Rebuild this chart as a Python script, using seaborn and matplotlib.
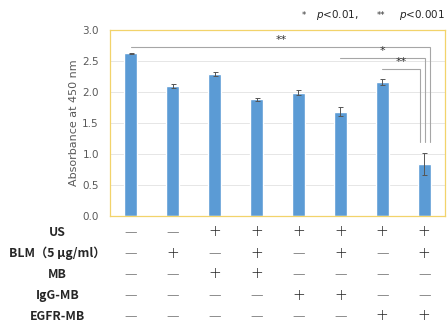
import numpy as np
import pandas as pd
import matplotlib
matplotlib.use("Agg")
import matplotlib.pyplot as plt
import matplotlib.transforms as mtransforms
import seaborn as sns

# Data
groups = ["G1", "G2", "G3", "G4", "G5", "G6", "G7", "G8"]
absorbance = [2.62, 2.09, 2.29, 1.88, 1.99, 1.68, 2.16, 0.84]
sd = [0.01, 0.03, 0.03, 0.03, 0.04, 0.07, 0.05, 0.17]

row_labels = ["US", "BLM（5 μg/ml）", "MB", "IgG-MB", "EGFR-MB"]
us = ["-", "-", "+", "+", "+", "+", "+", "+"]
blm = ["-", "+", "-", "+", "-", "+", "-", "+"]
mb = ["-", "-", "+", "+", "-", "-", "-", "-"]
igg = ["-", "-", "-", "-", "+", "+", "-", "-"]
egfr = ["-", "-", "-", "-", "-", "-", "+", "+"]
rows = [us, blm, mb, igg, egfr]

# significance brackets: (start bar, height, stars, label x)
brackets = [(0, 2.72, "**", 3.6), (5, 2.55, "*", 6.0), (6, 2.37, "**", 6.45)]

df = pd.DataFrame({"group": groups, "absorbance": absorbance})

sns.set_style("white")
plt.rcParams["font.family"] = ["DejaVu Sans"]

fig = plt.figure(figsize=(4.48, 3.28), dpi=100)
ax = fig.add_axes([0.2455, 0.341, 0.748, 0.568])

sns.barplot(data=df, x="group", y="absorbance", color="#5B9BD5",
            width=0.31, saturation=1, ax=ax, errorbar=None)
ax.errorbar(np.arange(len(groups)), absorbance, yerr=sd, fmt="none",
            ecolor="#555555", elinewidth=0.7, capsize=1.8, capthick=0.7)

ax.set_xlim(-0.5, 7.5)
ax.set_ylim(0, 3.0)
ax.set_yticks(np.arange(0, 3.01, 0.5))
ax.set_yticklabels([f"{v:.1f}" for v in np.arange(0, 3.01, 0.5)])
ax.set_xticks([])
ax.set_xlabel("")
ax.set_ylabel("Absorbance at 450 nm", color="#595959", fontsize=8, labelpad=2)
ax.tick_params(axis="y", colors="#595959", labelsize=7.5, length=0, pad=8)
ax.yaxis.grid(True, color="#E6E6E6", linewidth=0.7)
ax.set_axisbelow(True)
for s in ax.spines.values():
    s.set_color("#F2D36B")
    s.set_linewidth(0.9)

# brackets
right_x = [7.15, 7.03, 6.91]
for (start, h, stars, lx), rx in zip(brackets, right_x):
    ax.plot([start, rx, rx], [h, h, 1.19], color="#A6A6A6", lw=0.8,
            solid_joinstyle="miter")
    ax.text(lx, h + 0.03, stars, ha="center", va="bottom", fontsize=8,
            color="#333333")

# top legend text
fig.text(0.674, 0.953, "*", fontsize=6, ha="left", va="center", color="#333333")
fig.text(0.706, 0.953, "$p$<0.01,", fontsize=7.5, ha="left", va="center")
fig.text(0.84, 0.953, "**", fontsize=6, ha="left", va="center", color="#333333")
fig.text(0.89, 0.953, "$p$<0.001", fontsize=7.5, ha="left", va="center")

# condition table below
trans = mtransforms.blended_transform_factory(ax.transData, fig.transFigure)
row_y = [232, 253, 274, 295, 316]
for lab, signs, py in zip(row_labels, rows, row_y):
    yf = 1 - py / 328
    fig.text(0.128, yf, lab, ha="center", va="center", fontsize=8.8,
             fontweight="bold", family=["Noto Sans CJK JP", "DejaVu Sans"])
    for i, s in enumerate(signs):
        txt = "+" if s == "+" else "—"
        ax.text(i, yf, txt, transform=trans, ha="center", va="center",
                fontsize=11 if s == "+" else 9, color="#222222",
                fontweight="light")

fig.savefig("out.png", dpi=100)
